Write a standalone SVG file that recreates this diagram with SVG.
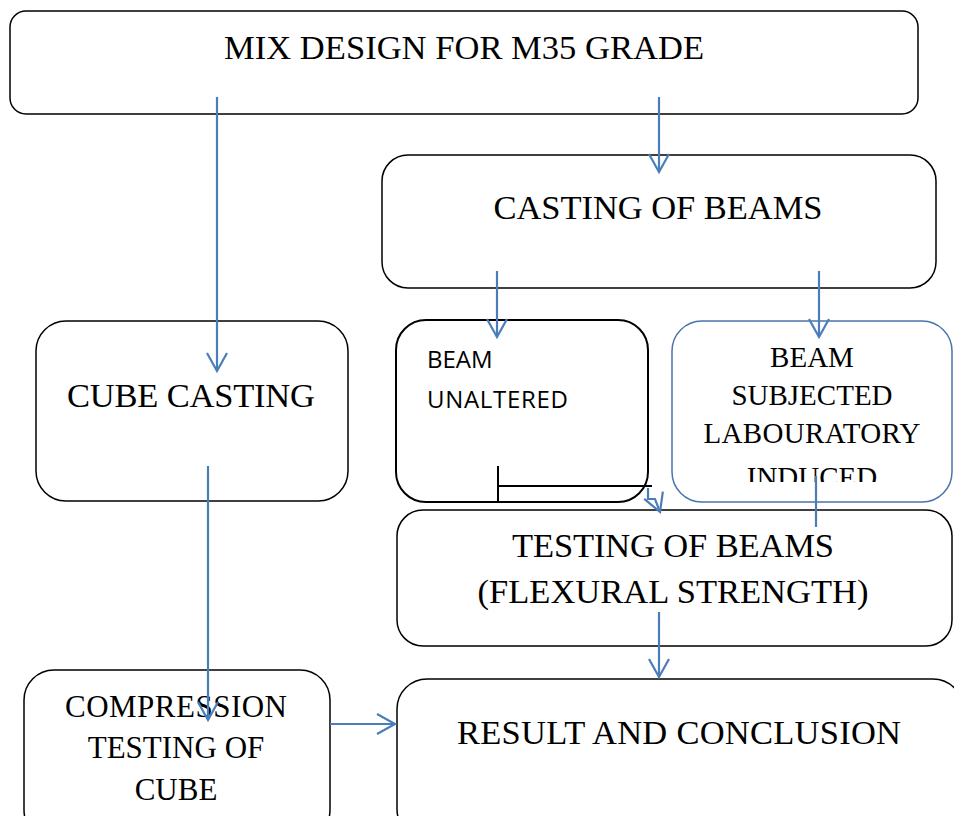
<svg xmlns="http://www.w3.org/2000/svg" width="954" height="816" viewBox="0 0 954 816">
<style>
.box{fill:#fff;stroke:#000;stroke-width:1.5}
.bbox{fill:#fff;stroke:#4a74ad;stroke-width:1.5}
.t{font-family:"Liberation Serif","Times New Roman",serif;fill:#000;text-anchor:middle}
.s{font-family:"Open Sans","Liberation Sans",sans-serif;fill:#000}
.c{fill:none;stroke:#4a7ebb;stroke-width:2.2}
.k{fill:none;stroke:#000;stroke-width:2}
</style>
<defs>
<marker id="ah" markerUnits="userSpaceOnUse" viewBox="-20 -12 22 24" refX="0" refY="0" markerWidth="22" markerHeight="24" orient="auto" overflow="visible">
<path d="M-18,-10 L0,0 L-18,10" fill="none" stroke="#4a7ebb" stroke-width="2.2"/>
</marker>
<clipPath id="clipInd"><rect x="672" y="320" width="282" height="162"/></clipPath>
</defs>
<rect width="954" height="816" fill="#fff"/>

<g id="mix">
<rect class="box" x="10" y="11" width="908" height="103" rx="16"/>
<text class="t" x="464" y="59" font-size="34.5" textLength="480">MIX DESIGN FOR M35 GRADE</text>
</g>

<g id="casting">
<rect class="box" x="382" y="155" width="554" height="133" rx="26"/>
<text class="t" x="658" y="219" font-size="34.5" textLength="329">CASTING OF BEAMS</text>
</g>

<g id="cube">
<rect class="box" x="36" y="321" width="312" height="180" rx="30"/>
<text class="t" x="191" y="407" font-size="34.5" textLength="248">CUBE CASTING</text>
</g>

<g id="unaltered">
<rect class="box" x="396" y="320" width="252" height="182" rx="30" style="stroke-width:2"/>
<text class="s" x="427" y="368" font-size="24">BEAM</text>
<text class="s" x="427" y="408" font-size="24" textLength="141">UNALTERED</text>
<path class="k" d="M498 466 V502 M498 486 H652"/>
</g>

<g id="subjected">
<rect class="bbox" x="672" y="321" width="280" height="181" rx="30"/>
<g clip-path="url(#clipInd)">
<text class="t" x="812" y="367" font-size="29">BEAM</text>
<text class="t" x="812" y="405" font-size="29">SUBJECTED</text>
<text class="t" x="812" y="443" font-size="29" textLength="217">LABOURATORY</text>
<text class="t" x="812" y="487" font-size="29">INDUCED</text>
</g>
</g>

<g id="testing">
<rect class="box" x="397" y="510" width="555" height="136" rx="26"/>
<text class="t" x="673" y="557" font-size="34.5" textLength="322">TESTING OF BEAMS</text>
<text class="t" x="673" y="603" font-size="34.5" textLength="391">(FLEXURAL STRENGTH)</text>
</g>

<g id="compression">
<rect class="box" x="24" y="670" width="306" height="170" rx="30"/>
<text class="t" x="176" y="717" font-size="31" textLength="222">COMPRESSION</text>
<text class="t" x="176" y="758" font-size="31">TESTING OF</text>
<text class="t" x="176" y="800" font-size="31">CUBE</text>
</g>

<g id="result">
<rect class="box" x="397" y="679" width="566" height="160" rx="30"/>
<text class="t" x="679" y="744" font-size="34.5" textLength="444">RESULT AND CONCLUSION</text>
</g>

<g id="connectors">
<path class="c" d="M217 97 V371" marker-end="url(#ah)"/>
<path class="c" d="M659 97 V172" marker-end="url(#ah)"/>
<path class="c" d="M497 271 V337" marker-end="url(#ah)"/>
<path class="c" d="M819 271 V337" marker-end="url(#ah)"/>
<path class="c" d="M648 488 V499 H655 L660 512" marker-end="url(#ah)"/>
<path class="c" d="M816 476 V527"/>
<path class="c" d="M208 466 V720" marker-end="url(#ah)"/>
<path class="c" d="M659 612 V677" marker-end="url(#ah)"/>
<path class="c" d="M330 724 H395" marker-end="url(#ah)"/>
</g>
</svg>
